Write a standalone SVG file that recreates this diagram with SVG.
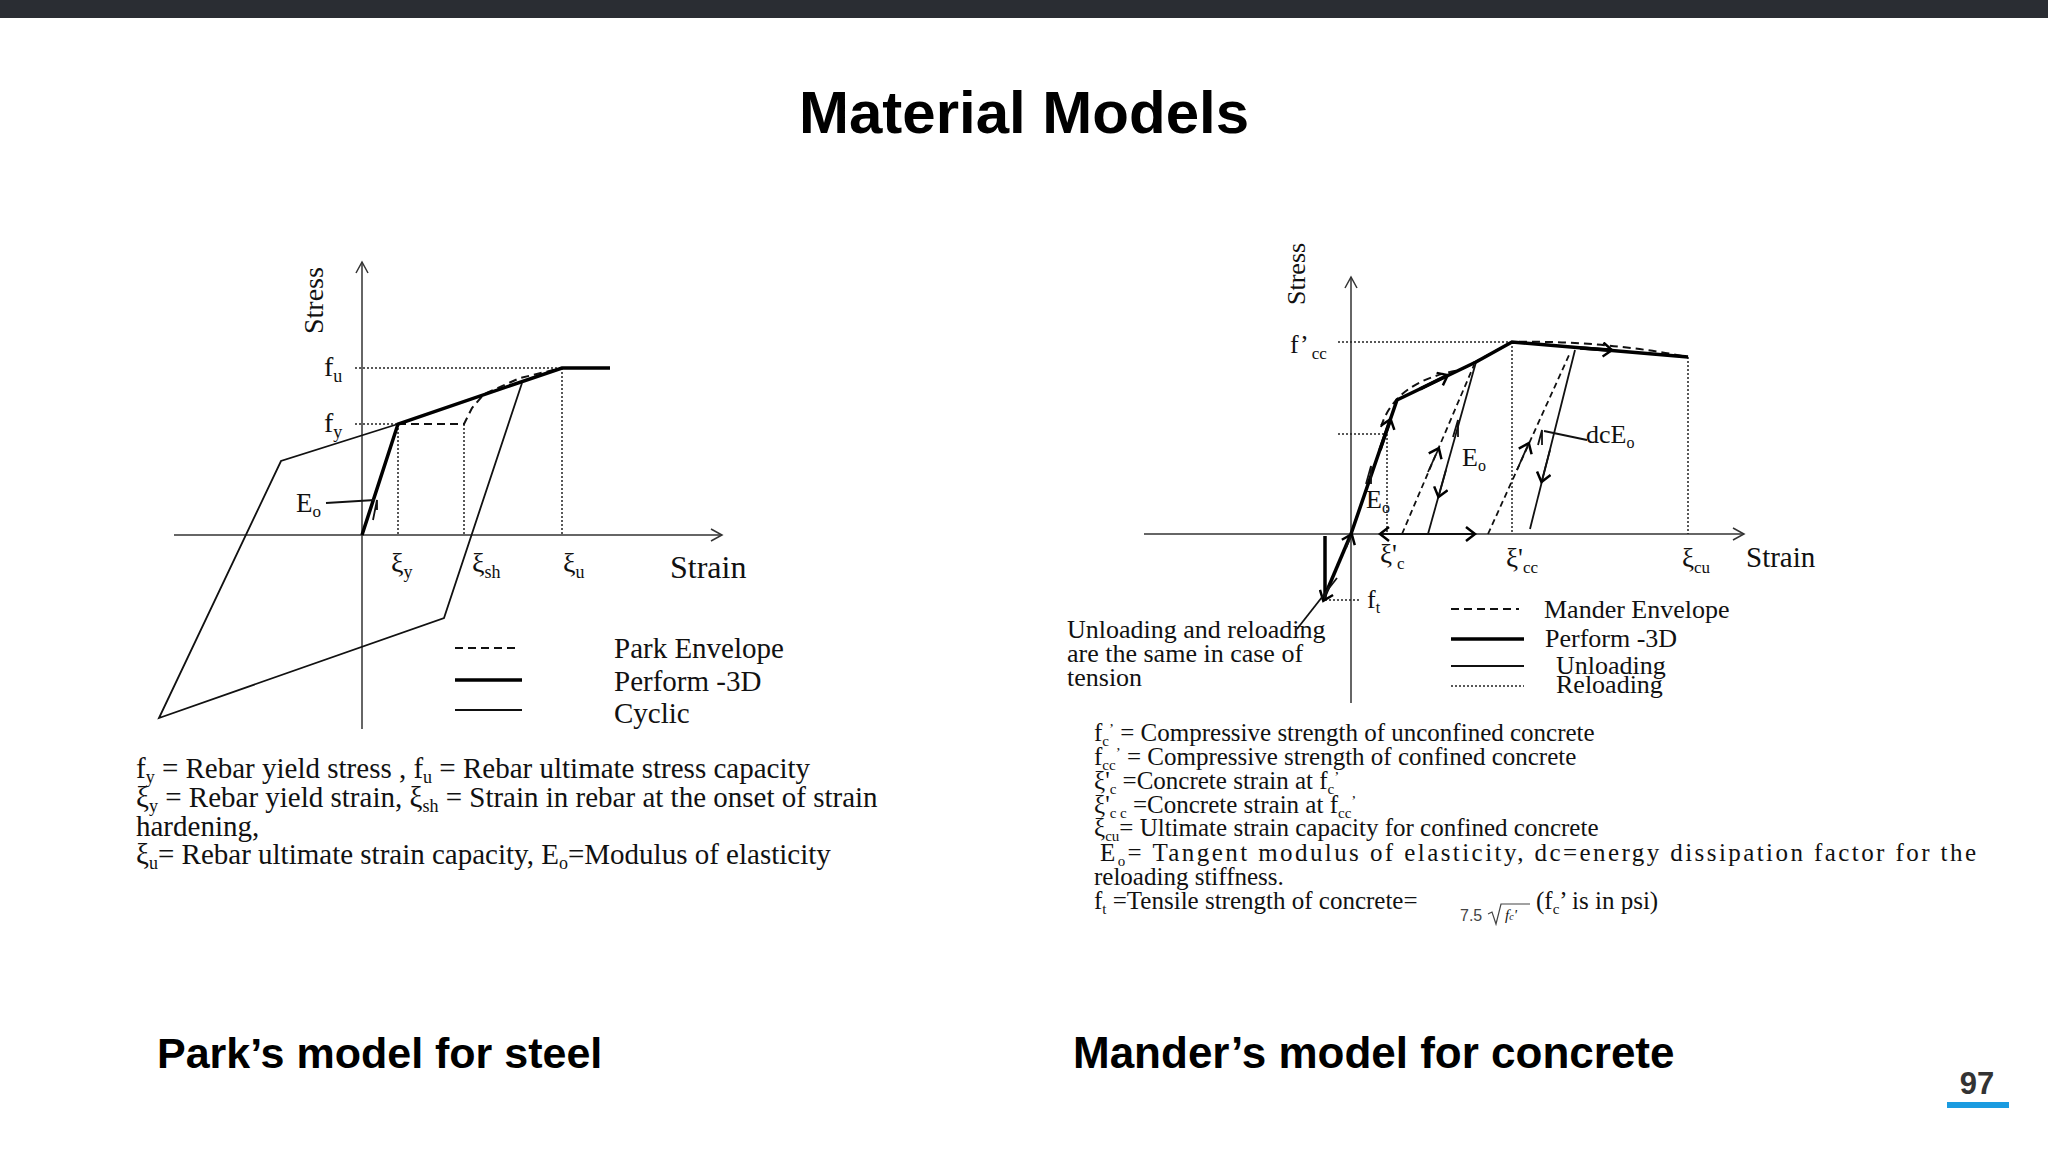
<svg xmlns="http://www.w3.org/2000/svg" width="2048" height="1152" viewBox="0 0 2048 1152">
<style>
.s{font-family:"Liberation Serif",serif;fill:#111}
.h{font-family:"Liberation Sans",Arial,sans-serif;font-weight:bold;fill:#000}
.ax{stroke:#333;stroke-width:1.5;fill:none}
.dot{stroke:#222;stroke-width:1.5;stroke-dasharray:2 2;fill:none}
.thick{stroke:#000;stroke-width:3.5;fill:none}
.thin{stroke:#111;stroke-width:1.8;fill:none}
.dash{stroke:#111;stroke-width:2;stroke-dasharray:8 5;fill:none}
.rl{stroke:#111;stroke-width:1.8;stroke-dasharray:6 4;fill:none}
</style>
<defs>
<marker id="ah" markerWidth="14" markerHeight="14" refX="12" refY="7" orient="auto" markerUnits="userSpaceOnUse"><path d="M1,1 L12,7 L1,13" fill="none" stroke="#333" stroke-width="1.5"/></marker>
<marker id="mh" markerWidth="16" markerHeight="16" refX="8" refY="8" orient="auto" markerUnits="userSpaceOnUse"><path d="M1,1 L10,8 L1,15" fill="none" stroke="#000" stroke-width="2.5"/></marker>
</defs>
<rect width="2048" height="1152" fill="#fff"/>
<rect width="2048" height="18" fill="#2a2d33"/>
<text class="h" x="1024" y="133" font-size="60" text-anchor="middle">Material Models</text>

<g id="park-chart">
<line class="ax" x1="362" y1="729" x2="362" y2="262" marker-end="url(#ah)"/>
<line class="ax" x1="174" y1="535" x2="722" y2="535" marker-end="url(#ah)"/>
<line class="dot" x1="355" y1="368" x2="562" y2="368"/>
<line class="dot" x1="355" y1="424" x2="398" y2="424"/>
<line class="dot" x1="398" y1="424" x2="398" y2="535"/>
<line class="dot" x1="464" y1="424" x2="464" y2="535"/>
<line class="dot" x1="562" y1="368" x2="562" y2="535"/>
<polyline class="thin" points="522,383 444,618 159,718 281,461 398,424"/>
<polyline class="dash" points="398,424 464,424 472,408 484,394 520,378 562,368"/>
<polyline class="thick" points="362,535 398,424 562,368 610,368"/>
<polyline class="thin" points="373,520 377,500 377,510"/>
<line class="thin" x1="326" y1="503" x2="375" y2="500"/>
<text class="s" x="296" y="512" font-size="27">E<tspan font-size="17" dy="5">o</tspan></text>
<text class="s" transform="translate(323,334) rotate(-90)" font-size="28">Stress</text>
<text class="s" x="324" y="376" font-size="28">f<tspan font-size="18" dy="6">u</tspan></text>
<text class="s" x="324" y="432" font-size="28">f<tspan font-size="18" dy="6">y</tspan></text>
<text class="s" x="391" y="572" font-size="28">ξ<tspan font-size="18" dy="6">y</tspan></text>
<text class="s" x="472" y="572" font-size="28">ξ<tspan font-size="18" dy="6">sh</tspan></text>
<text class="s" x="563" y="572" font-size="28">ξ<tspan font-size="18" dy="6">u</tspan></text>
<text class="s" x="670" y="578" font-size="32">Strain</text>
<line class="dash" x1="455" y1="648" x2="515" y2="648"/>
<line class="thick" x1="455" y1="680" x2="522" y2="680"/>
<line class="thin" x1="455" y1="710" x2="522" y2="710"/>
<text class="s" x="614" y="658" font-size="29">Park Envelope</text>
<text class="s" x="614" y="691" font-size="29">Perform -3D</text>
<text class="s" x="614" y="723" font-size="29">Cyclic</text>
</g>

<g id="park-text" class="s" font-size="29">
<text x="136" y="778">f<tspan font-size="18" dy="5">y</tspan><tspan dy="-5"> = Rebar yield stress , f</tspan><tspan font-size="18" dy="5">u</tspan><tspan dy="-5"> = Rebar ultimate stress capacity</tspan></text>
<text x="136" y="807">ξ<tspan font-size="18" dy="5">y</tspan><tspan dy="-5"> = Rebar yield strain, ξ</tspan><tspan font-size="18" dy="5">sh</tspan><tspan dy="-5"> = Strain in rebar at the onset of strain</tspan></text>
<text x="136" y="836">hardening,</text>
<text x="136" y="864">ξ<tspan font-size="18" dy="5">u</tspan><tspan dy="-5">= Rebar ultimate strain capacity, E</tspan><tspan font-size="18" dy="5">o</tspan><tspan dy="-5">=Modulus of elasticity</tspan></text>
</g>

<g id="mander-chart">
<line class="ax" x1="1351" y1="703" x2="1351" y2="277" marker-end="url(#ah)"/>
<line class="ax" x1="1144" y1="534" x2="1744" y2="534" marker-end="url(#ah)"/>
<line class="dot" x1="1338" y1="342" x2="1512" y2="342"/>
<line class="dot" x1="1512" y1="342" x2="1512" y2="534"/>
<line class="dot" x1="1688" y1="357" x2="1688" y2="534"/>
<line class="dot" x1="1338" y1="434" x2="1387" y2="434"/>
<line class="dot" x1="1387" y1="434" x2="1387" y2="534"/>
<line class="dot" x1="1325" y1="600" x2="1359" y2="600"/>
<path class="dash" d="M1381,427 Q1395,381 1460,370 Q1490,354 1512,342 Q1600,340 1688,357"/>
<line class="rl" x1="1402" y1="534" x2="1474" y2="365"/>
<line class="rl" x1="1488" y1="534" x2="1570" y2="353"/>
<line class="thin" x1="1476" y1="362" x2="1428" y2="534"/>
<line class="thin" x1="1575" y1="350" x2="1530" y2="529"/>
<polyline class="thick" points="1351,534 1397,400 1476,362 1512,342 1688,357"/>
<line class="thick" x1="1380" y1="450" x2="1390" y2="421" marker-end="url(#mh)"/>
<line class="thick" x1="1420" y1="389" x2="1446" y2="376" marker-end="url(#mh)"/>
<line class="thick" x1="1580" y1="348" x2="1610" y2="350" marker-end="url(#mh)"/>
<line class="thin" x1="1428" y1="472" x2="1438" y2="450" marker-end="url(#mh)"/>
<line class="thin" x1="1446" y1="470" x2="1439" y2="495" marker-end="url(#mh)"/>
<line class="thin" x1="1517" y1="470" x2="1528" y2="445" marker-end="url(#mh)"/>
<line class="thin" x1="1550" y1="450" x2="1542" y2="480" marker-end="url(#mh)"/>
<line class="thin" x1="1380" y1="534" x2="1473" y2="534"/>
<line class="thin" x1="1400" y1="534" x2="1382" y2="534" marker-end="url(#mh)"/>
<line class="thin" x1="1450" y1="534" x2="1473" y2="534" marker-end="url(#mh)"/>
<line class="thick" x1="1325" y1="536" x2="1325" y2="600"/>
<line class="thick" x1="1351" y1="534" x2="1323" y2="600"/>
<line class="thin" x1="1329" y1="586" x2="1324" y2="599" marker-end="url(#mh)"/>
<line class="thin" x1="1346" y1="548" x2="1351" y2="536" marker-end="url(#mh)"/>
<line class="thin" x1="1297" y1="629" x2="1337" y2="578"/>
<polyline class="thin" points="1366,484 1371,466 1371,484"/>
<polyline class="thin" points="1453,437 1458,420 1458,437"/>
<polyline class="thin" points="1538,445 1542,430 1542,445"/>
<line class="thin" x1="1544" y1="431" x2="1587" y2="440"/>
<text class="s" transform="translate(1305,305) rotate(-90)" font-size="26">Stress</text>
<text class="s" x="1290" y="353" font-size="26">f’<tspan font-size="17" dx="3" dy="6">cc</tspan></text>
<text class="s" x="1462" y="466" font-size="26">E<tspan font-size="16" dy="5">o</tspan></text>
<text class="s" x="1366" y="508" font-size="26">E<tspan font-size="16" dy="5">o</tspan></text>
<text class="s" x="1586" y="443" font-size="26">dcE<tspan font-size="16" dy="5">o</tspan></text>
<text class="s" x="1380" y="563" font-size="27">ξ'<tspan font-size="17" dy="6">c</tspan></text>
<text class="s" x="1506" y="567" font-size="27">ξ'<tspan font-size="17" dy="6">cc</tspan></text>
<text class="s" x="1682" y="567" font-size="27">ξ<tspan font-size="17" dy="6">cu</tspan></text>
<text class="s" x="1746" y="567" font-size="29">Strain</text>
<text class="s" x="1367" y="608" font-size="26">f<tspan font-size="16" dy="5">t</tspan></text>
<g class="s" font-size="26">
<text x="1067" y="638">Unloading and reloading</text>
<text x="1067" y="662">are the same in case of</text>
<text x="1067" y="686">tension</text>
</g>
<line class="dash" x1="1451" y1="609" x2="1519" y2="609"/>
<line class="thick" x1="1451" y1="639" x2="1524" y2="639"/>
<line class="thin" x1="1451" y1="666" x2="1524" y2="666"/>
<line class="dot" x1="1451" y1="686" x2="1524" y2="686"/>
<text class="s" x="1544" y="618" font-size="26">Mander Envelope</text>
<text class="s" x="1545" y="647" font-size="26">Perform -3D</text>
<text class="s" x="1556" y="674" font-size="26">Unloading</text>
<text class="s" x="1556" y="693" font-size="26">Reloading</text>
</g>

<g id="mander-text" class="s" font-size="25">
<text x="1094" y="741">f<tspan font-size="15" dy="5">c</tspan><tspan font-size="15" dy="-12">’</tspan><tspan dy="7"> = Compressive strength of unconfined concrete</tspan></text>
<text x="1094" y="765">f<tspan font-size="15" dy="5">cc</tspan><tspan font-size="15" dy="-12">’</tspan><tspan dy="7"> = Compressive strength of confined concrete</tspan></text>
<text x="1094" y="789">ξ'<tspan font-size="15" dy="5">c</tspan><tspan dy="-5">  =Concrete strain at f</tspan><tspan font-size="15" dy="5">c</tspan><tspan font-size="15" dy="-12">’</tspan></text>
<text x="1094" y="813">ξ'<tspan font-size="15" dy="5">c c</tspan><tspan dy="-5"> =Concrete strain at f</tspan><tspan font-size="15" dy="5">cc</tspan><tspan font-size="15" dy="-12">’</tspan></text>
<text x="1094" y="836">ξ<tspan font-size="15" dy="5">cu</tspan><tspan dy="-5">= Ultimate strain capacity for confined concrete</tspan></text>
<text x="1100" y="861" textLength="876" lengthAdjust="spacing">E<tspan font-size="15" dy="5">o</tspan><tspan dy="-5">=  Tangent  modulus  of  elasticity,  dc=energy  dissipation  factor  for  the</tspan></text>
<text x="1094" y="885">reloading stiffness.</text>
<text x="1094" y="909">f<tspan font-size="15" dy="5">t</tspan><tspan dy="-5"> =Tensile strength of concrete=</tspan></text>
<text x="1460" y="921" font-size="16" font-family="Liberation Sans,sans-serif" fill="#444">7.5</text>
<path d="M1488,914 L1492,912 L1496,924 L1501,904 L1530,904" fill="none" stroke="#444" stroke-width="1.2"/>
<text x="1505" y="920" font-size="15" font-style="italic">f<tspan font-size="10">c</tspan>'</text>
<text x="1536" y="909">(f<tspan font-size="15" dy="5">c</tspan><tspan dy="-5">’ is in psi)</tspan></text>
</g>

<text class="h" x="157" y="1068" font-size="43">Park’s model for steel</text>
<text class="h" x="1073" y="1068" font-size="44">Mander’s model for concrete</text>
<text x="1977" y="1094" font-size="31" text-anchor="middle" font-family="Liberation Sans,sans-serif" font-weight="bold" fill="#333">97</text>
<rect x="1947" y="1102" width="62" height="6" fill="#1a9be0"/>
</svg>
